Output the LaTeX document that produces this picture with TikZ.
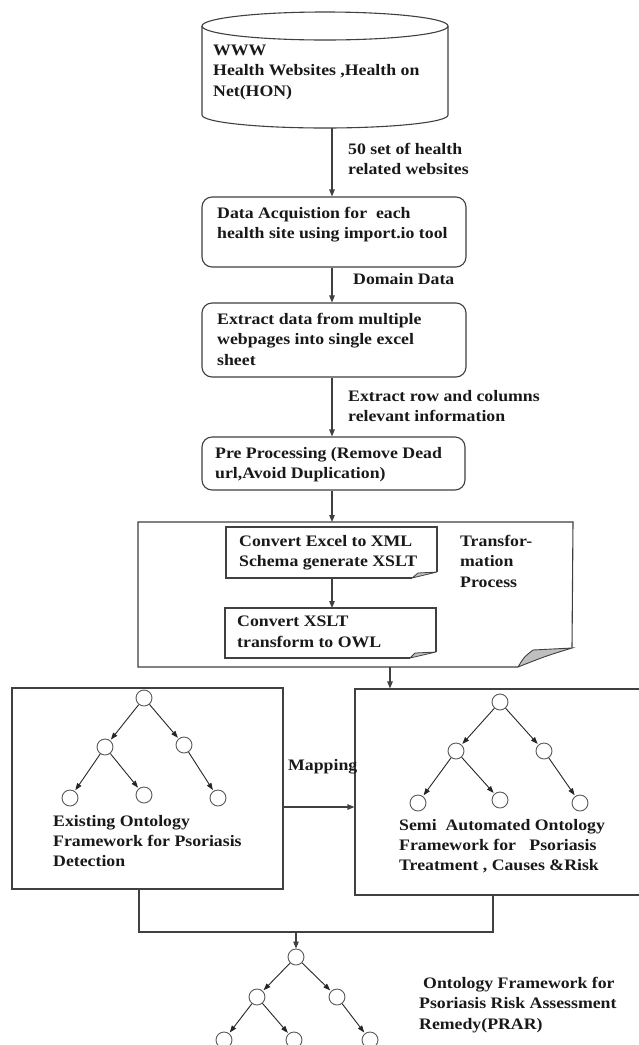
\documentclass[tikz,border=0pt]{standalone}
\usepackage{fontspec}
\setmainfont{Liberation Serif}[FakeStretch=1.11]
\usetikzlibrary{arrows.meta,calc}
\begin{document}
\begin{tikzpicture}[x=1pt,y=-1pt,
  line/.style={draw=black!75, line width=1.1pt},
  arr/.style={line, -{Triangle[length=7pt,width=5.5pt]}},
  box/.style={line, rounded corners=10pt, inner sep=0pt},
  frame/.style={line, inner sep=0pt},
  ghost/.style={inner sep=0pt, outer sep=0pt},
  txt/.style={font=\bfseries\fontsize{16}{20.3}\selectfont, align=left, inner sep=0pt, anchor=north west, text=black!90},
  circ/.style={circle, draw=black!65, line width=0.9pt, minimum size=16pt, inner sep=0pt},
  tarr/.style={draw=black!85, line width=0.9pt, -{Triangle[length=7pt,width=5pt]}, shorten >=1pt}
]
\useasboundingbox (0,0) rectangle (639,1045);
\clip (0,0) rectangle (639,1045);
\fill[white] (0,0) rectangle (639,1045);

% cylinder
\draw[line] (202,26) -- (202,115) arc[start angle=180, end angle=0, x radius=123, y radius=13] -- (448,26);
\draw[line] (325,26) ellipse[x radius=123, y radius=14];
\node[ghost, minimum width=246pt, minimum height=116pt] (cyl) at (325,70) {};
\coordinate (cylb) at (332,128);
\node[txt] (cyltxt) at (213,45) {WWW\\Health Websites ,Health on\\Net(HON)};

% boxes
\node[box, minimum width=264pt, minimum height=70pt] (acq) at (334,232) {};
\node[txt] (acqtxt) at (217,207) {Data Acquistion for~ each\\health site using import.io tool};
\node[box, minimum width=264pt, minimum height=74pt] (ext) at (334,340) {};
\node[txt] (exttxt) at (217,313) {Extract data from multiple\\webpages into single excel\\sheet};
\node[box, minimum width=263pt, minimum height=53pt] (pre) at (333.5,463.5) {};
\node[txt] (pretxt) at (215,447) {Pre Processing (Remove Dead\\url,Avoid Duplication)};

% arrows top
\draw[arr] (cylb) -- (cylb |- acq.north);
\draw[arr] (acq.south -| cylb) -- (cylb |- ext.north);
\draw[arr] (ext.south -| cylb) -- (cylb |- pre.north);
\node[txt] (l1) at (348,143) {50 set of health\\related websites};
\node[txt] (l2) at (353,273) {Domain Data};
\node[txt] (l3) at (348,390) {Extract row and columns\\relevant information};

% big document
\node[ghost, minimum width=435pt, minimum height=145pt] (big) at (355.5,594.5) {};
\draw[line] (572,648) -- (573,522) -- (138,522) -- (138,667) -- (518,667);
\filldraw[line, line width=0.9pt, fill=black!25] (518,667) .. controls (524,657) .. (533,650) -- (572,648) .. controls (546,656) .. (518,667);
\draw[arr] (pre.south -| cylb) -- (cylb |- big.north);

% doc1
\node[ghost, minimum width=211pt, minimum height=51pt] (d1) at (331.5,552.5) {};
\draw[line] (437,572) -- (437,527) -- (226,527) -- (226,578) -- (412,578);
\filldraw[line, line width=0.8pt, fill=black!25] (412,578) -- (418,573) -- (437,572) -- cycle;
\node[txt] (d1txt) at (239,535) {Convert Excel to XML\\Schema generate XSLT};

% doc2
\node[ghost, minimum width=211pt, minimum height=50pt] (d2) at (330.5,633) {};
\draw[line] (436,652) -- (436,608) -- (225,608) -- (225,658) -- (410,658);
\filldraw[line, line width=0.8pt, fill=black!25] (410,658) -- (415,653) -- (436,652) -- cycle;
\node[txt] (d2txt) at (237,616) {Convert XSLT\\transform to OWL};
\draw[arr] (d1.south -| cylb) -- (cylb |- d2.north);

\node[txt] (trans) at (460,535) {Transfor-\\mation\\Process};

% frames
\node[frame, minimum width=271pt, minimum height=201pt] (lf) at (147.5,788.5) {};
\node[frame, minimum width=290pt, minimum height=206pt] (rf) at (500,792) {};
\coordinate (bo) at (390,667);
\draw[arr] (bo) -- (bo |- rf.north);
\coordinate (mp) at (283,807);
\draw[arr] (lf.east |- mp) -- (rf.west |- mp);
\node[txt] (maptxt) at (288,759) {Mapping};

% left tree
\node[circ] (a0) at (144,698) {};
\node[circ] (a1) at (105,747) {};
\node[circ] (a2) at (184,745) {};
\node[circ] (a3) at (70,798) {};
\node[circ] (a4) at (144,795) {};
\node[circ] (a5) at (218,798) {};
\draw[tarr] (a0) -- (a1);
\draw[tarr] (a0) -- (a2);
\draw[tarr] (a1) -- (a3);
\draw[tarr] (a1) -- (a4);
\draw[tarr] (a2) -- (a5);
\node[txt] (ltxt) at (53,815) {Existing Ontology\\Framework for Psoriasis\\Detection};

% right tree
\node[circ] (b0) at (500,702) {};
\node[circ] (b1) at (456,751) {};
\node[circ] (b2) at (544,751) {};
\node[circ] (b3) at (418,803) {};
\node[circ] (b4) at (500,800) {};
\node[circ] (b5) at (580,803) {};
\draw[tarr] (b0) -- (b1);
\draw[tarr] (b0) -- (b2);
\draw[tarr] (b1) -- (b3);
\draw[tarr] (b1) -- (b4);
\draw[tarr] (b2) -- (b5);
\node[txt] (rtxt) at (399,819) {Semi~ Automated Ontology\\Framework for~~ Psoriasis\\Treatment , Causes \&Risk};

% join
\coordinate (jl) at (139,932);
\coordinate (jr) at (493,932);
\draw[line] (lf.south -| jl) -- (jl) -- (jr) -- (rf.south -| jr);

% bottom tree
\node[circ] (c0) at (296,957) {};
\node[circ] (c1) at (257,997) {};
\node[circ] (c2) at (337,997) {};
\node[circ] (c3) at (224,1040) {};
\node[circ] (c4) at (294,1040) {};
\node[circ] (c5) at (370,1040) {};
\coordinate (ja) at (296,932);
\draw[arr] (ja) -- (c0);
\draw[tarr] (c0) -- (c1);
\draw[tarr] (c0) -- (c2);
\draw[tarr] (c1) -- (c3);
\draw[tarr] (c1) -- (c4);
\draw[tarr] (c2) -- (c5);
\node[txt] (btxt) at (419,977) {\hspace{4pt}Ontology Framework for\\Psoriasis Risk Assessment\\Remedy(PRAR)};
\end{tikzpicture}
\end{document}
